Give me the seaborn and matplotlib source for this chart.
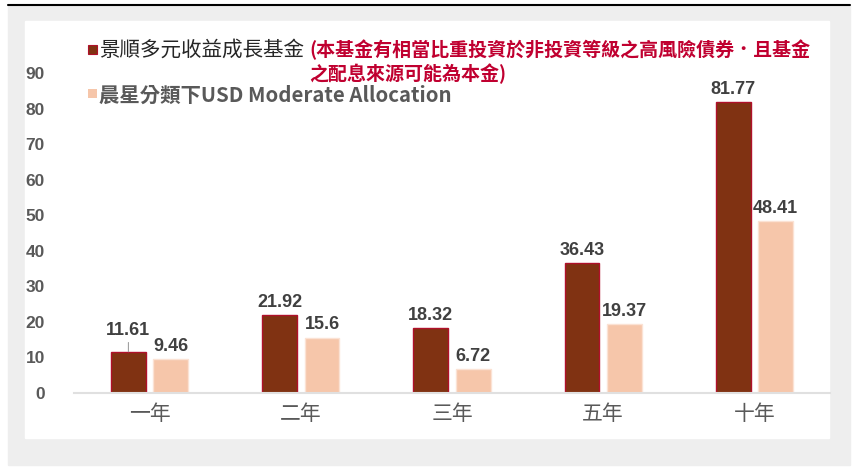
import numpy as np
import pandas as pd
import matplotlib
matplotlib.use("Agg")
import matplotlib.pyplot as plt
import seaborn as sns

## data
periods = ["一年", "二年", "三年", "五年", "十年"]
fund_name = "景順多元收益成長基金"
peer_name = "晨星分類下USD Moderate Allocation"
fund_vals = [11.61, 21.92, 18.32, 36.43, 81.77]
peer_vals = [9.46, 15.6, 6.72, 19.37, 48.41]
y_ticks = [0, 10, 20, 30, 40, 50, 60, 70, 80, 90]
note_line1 = "(本基金有相當比重投資於非投資等級之高風險債券．且基金"
note_line2 = "之配息來源可能為本金)"

dark = "#803212"
light = "#f6c6aa"

df = pd.DataFrame({
    "period": periods * 2,
    "value": fund_vals + peer_vals,
    "series": [fund_name] * len(periods) + [peer_name] * len(periods),
})

sns.set_style("white")
plt.rcParams["font.family"] = ["Noto Sans CJK TC", "DejaVu Sans"]

W, H = 857, 470
fig = plt.figure(figsize=(W / 100, H / 100), dpi=100)
fig.patch.set_facecolor("white")

# grey frame and white panel
fig.patches.append(plt.Rectangle((8 / W, 1 - 465 / H), 842 / W, 460 / H,
                                 transform=fig.transFigure, color="#eeeeee", zorder=-3))
fig.patches.append(plt.Rectangle((25 / W, 1 - 438 / H), 804 / W, 417 / H,
                                 transform=fig.transFigure, color="white", zorder=-2))
fig.lines.append(plt.Line2D([8 / W, 850 / W], [1 - 4.5 / H] * 2, transform=fig.transFigure,
                            color="black", lw=1.5))

ax = fig.add_axes([74 / W, 1 - 393 / H, (830 - 74) / W, (393 - 73) / H])
ax.set_facecolor("none")

sns.barplot(data=df, x="period", y="value", hue="series", palette=[dark, light],
            saturation=1, width=0.56, gap=0.18, legend=False, ax=ax)

for p in ax.containers[0]:
    p.set_edgecolor("#b0102a")
    p.set_linewidth(1.0)
for p in ax.containers[1]:
    p.set_edgecolor("#fbe2d4")
    p.set_linewidth(1.0)

# value labels
for cont in ax.containers:
    for p in cont:
        x = p.get_x() + p.get_width() / 2
        h = p.get_height()
        lab = "%g" % h
        if lab == "11.61":
            ax.annotate(lab, (x, h), xytext=(0, 9), textcoords="offset points",
                        ha="center", va="bottom", fontsize=13, fontweight="bold",
                        color="#404040", family="Liberation Sans",
                        arrowprops=dict(arrowstyle="-", color="#a0a0a0", lw=0.8,
                                        shrinkA=0, shrinkB=0))
        else:
            ax.annotate(lab, (x, h), xytext=(0, 3), textcoords="offset points",
                        ha="center", va="bottom", fontsize=13, fontweight="bold",
                        color="#404040", family="Liberation Sans")

ax.set_xlim(-0.5, 4.5)
ax.set_ylim(0, 90)
ax.set_yticks(y_ticks)
ax.set_yticklabels([str(t) for t in y_ticks], fontsize=12.5, fontweight="bold",
                   color="#595959", family="Liberation Sans")
ax.tick_params(axis="y", length=0, pad=21)
ax.tick_params(axis="x", length=0, pad=7, labelsize=15, labelcolor="#595959")
ax.set_xlabel("")
ax.set_ylabel("")
sns.despine(ax=ax, left=True, top=True, right=True)
ax.spines["bottom"].set_color("#e0e0e0")
ax.spines["bottom"].set_linewidth(1.5)

# legend drawn by hand to match the layout
fig.patches.append(plt.Rectangle((88 / W, 1 - 54 / H), 9 / W, 9 / H, transform=fig.transFigure,
                                 facecolor=dark, edgecolor="#b0102a", lw=0.8))
fig.patches.append(plt.Rectangle((88 / W, 1 - 98 / H), 9 / W, 9 / H, transform=fig.transFigure,
                                 facecolor=light, edgecolor="none"))
fig.text(99 / W, 1 - 50 / H, fund_name, fontsize=14.8, color="#262626", va="center")
fig.text(309 / W, 1 - 50 / H, note_line1, fontsize=13.7, color="#c00030",
         fontweight="bold", va="center")
fig.text(309 / W, 1 - 74 / H, note_line2, fontsize=13.7, color="#c00030",
         fontweight="bold", va="center")
fig.text(99 / W, 1 - 95 / H, peer_name, fontsize=14.7, color="#595959",
         fontweight="bold", va="center")

fig.savefig("out.png", dpi=100)
